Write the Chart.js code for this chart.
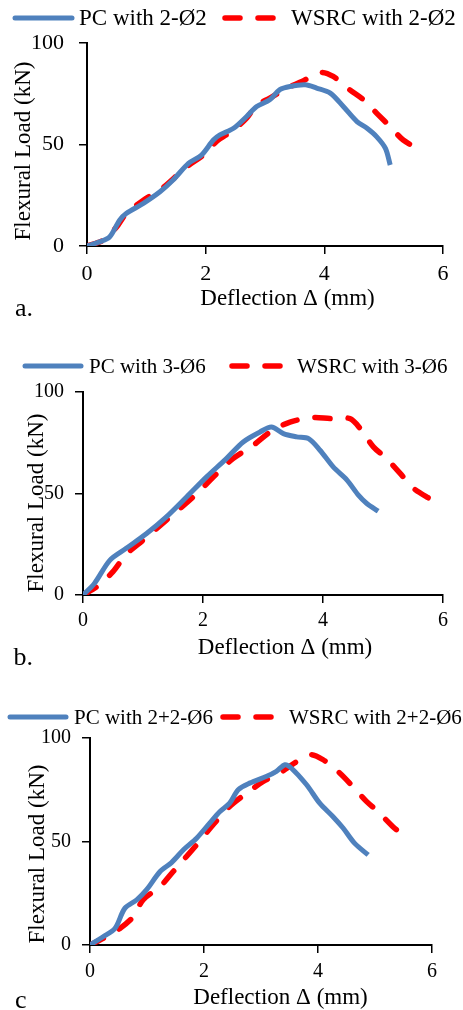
<!DOCTYPE html>
<html>
<head>
<meta charset="utf-8">
<script src="https://cdn.jsdelivr.net/npm/chart.js@4.4.1/dist/chart.umd.min.js"></script>
<style>
    body { margin: 0; background: #fff; }
    canvas { position: absolute; left: 0; }
</style>
</head>
<body>
<canvas id="chart-a" width="463" height="330" style="top:0px;width:463px;height:330px"></canvas>
<canvas id="chart-b" width="463" height="340" style="top:330px;width:463px;height:340px"></canvas>
<canvas id="chart-c" width="463" height="340" style="top:670px;width:463px;height:340px"></canvas>
<script>
// --- data ---
const xTicks = [0, 2, 4, 6];
const yTicks = [0, 50, 100];

const seriesNames = {
    a: ['PC with 2-Ø2', 'WSRC with 2-Ø2'],
    b: ['PC with 3-Ø6', 'WSRC with 3-Ø6'],
    c: ['PC with 2+2-Ø6', 'WSRC with 2+2-Ø6']
};

// a.
const pcDeflA = [0, 0.21, 0.38, 0.55, 0.66, 0.95, 1.23, 1.45, 1.71, 1.93, 2.13, 2.24, 2.47, 2.69, 2.86, 3.08, 3.25, 3.42, 3.68, 3.87, 4.10, 4.32, 4.55, 4.72, 4.88, 5.03, 5.11];
const pcLoadA = [0, 2, 4.4, 12.7, 16, 21, 26.7, 32.5, 40.7, 44.8, 52.2, 54.7, 58, 63.8, 68.7, 72, 77, 78.6, 79.4, 77.8, 75.3, 68.7, 61.3, 58, 53.9, 48.1, 39.9];
const wsDeflA = [0, 0.27, 0.50, 0.64, 0.95, 1.23, 1.68, 1.96, 2.18, 2.47, 2.69, 2.86, 3.08, 3.37, 3.62, 3.93, 4.15, 4.43, 4.66, 4.91, 5.11, 5.33, 5.62];
const wsLoadA = [0, 2.8, 9.4, 15.2, 22.6, 27.5, 39, 44.8, 51.4, 57.2, 63, 69.5, 72.8, 77.8, 81, 85.5, 83.5, 76.9, 72, 64.6, 58.8, 52.2, 47.3];

// b.
const pcDeflB = [0, 0.19, 0.45, 0.72, 1.06, 1.39, 1.73, 2.06, 2.39, 2.67, 2.95, 3.14, 3.34, 3.56, 3.76, 3.95, 4.17, 4.40, 4.59, 4.73, 4.92];
const pcLoadB = [0, 5.7, 17.2, 23, 30.3, 38.5, 48.4, 58.2, 67.2, 75.4, 80.3, 82.8, 79.5, 77.9, 77, 71.3, 63.1, 56.6, 49.2, 45.1, 41.3];
const wsDeflB = [0, 0.25, 0.50, 0.72, 1.00, 1.39, 1.84, 2.23, 2.50, 2.84, 3.12, 3.45, 3.84, 4.12, 4.45, 4.62, 4.84, 5.06, 5.29, 5.51, 5.82];
const wsLoadB = [0, 4.5, 11.5, 20, 27, 36.9, 48.4, 59.8, 67.2, 73.8, 80.3, 85.2, 87.4, 86.9, 86.9, 82, 73, 67.2, 59.8, 52.5, 46.7];

// c
const pcDeflC = [0, 0.23, 0.44, 0.61, 0.82, 0.99, 1.23, 1.43, 1.64, 1.87, 2.10, 2.28, 2.45, 2.60, 2.80, 3.10, 3.27, 3.42, 3.53, 3.80, 4.03, 4.26, 4.44, 4.64, 4.88];
const pcLoadC = [0, 4, 8.1, 17.7, 21.8, 26.6, 35.5, 39.8, 46, 51.6, 58.9, 64.5, 68.5, 75, 78.2, 81.5, 83.9, 87.1, 85.5, 77.4, 68.5, 62.1, 56.5, 49.2, 43.5];
const wsDeflC = [0, 0.23, 0.53, 0.76, 0.93, 1.23, 1.46, 1.64, 1.87, 2.16, 2.45, 2.75, 3.04, 3.33, 3.50, 3.86, 4.09, 4.38, 4.61, 4.85, 5.05, 5.31, 5.52];
const wsLoadC = [0, 3.2, 8.1, 13.7, 21.8, 28.2, 35.5, 41.1, 48.4, 58.1, 66.9, 73.4, 79, 83.1, 86.3, 91.9, 89.5, 83.1, 76.6, 69.4, 64.5, 57.3, 52.4];

const FONT = '"Liberation Serif", "Times New Roman", serif';
const BLUE = '#4F81BD';
const RED = '#FF0000';

function toPoints(xs, ys) {
    return xs.map((x, i) => ({ x: x, y: ys[i] }));
}

// draws legend, axis titles and panel letter
const overlay = {
    id: 'overlay',
    afterDraw(chart, args, opts) {
        const ctx = chart.ctx;
        ctx.save();
        ctx.fillStyle = '#000';
        ctx.textBaseline = 'middle';

        // legend
        chart.data.datasets.forEach((ds, i) => {
            const it = opts.legend.items[i];
            ctx.save();
            ctx.strokeStyle = ds.borderColor;
            ctx.lineWidth = ds.borderWidth;
            ctx.lineCap = 'round';
            ctx.setLineDash(ds.borderDash || []);
            ctx.beginPath();
            ctx.moveTo(it.x0, opts.legend.y);
            ctx.lineTo(it.x1, opts.legend.y);
            ctx.stroke();
            ctx.restore();
            ctx.font = opts.legend.size + 'px ' + FONT;
            ctx.textAlign = 'left';
            ctx.fillText(ds.label, it.tx, opts.legend.y + 1);
        });

        // axis titles
        ctx.font = opts.titleSize + 'px ' + FONT;
        ctx.textAlign = 'center';
        ctx.fillText('Deflection Δ (mm)', opts.xTitle[0], opts.xTitle[1]);
        ctx.save();
        ctx.translate(opts.yTitle[0], opts.yTitle[1]);
        ctx.rotate(-Math.PI / 2);
        ctx.fillText('Flexural Load (kN)', 0, 0);
        ctx.restore();

        // panel letter
        ctx.font = opts.letter.size + 'px ' + FONT;
        ctx.textAlign = 'left';
        ctx.textBaseline = 'alphabetic';
        ctx.fillText(opts.letter.text, opts.letter.x, opts.letter.y);
        ctx.restore();
    }
};

function makeChart(id, names, pcX, pcY, wsX, wsY, lay) {
    const h = document.getElementById(id).height;
    return new Chart(document.getElementById(id), {
        type: 'scatter',
        data: {
            datasets: [{
                label: names[0],
                data: toPoints(pcX, pcY),
                showLine: true,
                borderColor: BLUE,
                backgroundColor: BLUE,
                borderWidth: 5,
                pointRadius: 0,
                tension: 0.3
            }, {
                label: names[1],
                data: toPoints(wsX, wsY),
                showLine: true,
                borderColor: RED,
                backgroundColor: RED,
                borderWidth: 5.5,
                borderDash: [15, 18],
                borderCapStyle: 'round',
                pointRadius: 0,
                tension: 0.3
            }]
        },
        plugins: [overlay],
        options: {
            responsive: false,
            animation: false,
            layout: {
                padding: { top: lay.area.top, right: 463 - lay.area.right, left: 0, bottom: 0 }
            },
            scales: {
                x: {
                    type: 'linear',
                    min: xTicks[0],
                    max: xTicks[xTicks.length - 1],
                    afterBuildTicks: s => { s.ticks = xTicks.map(v => ({ value: v })); },
                    afterFit: s => { s.height = h - lay.area.bottom; },
                    ticks: {
                        color: '#000',
                        padding: lay.xPad,
                        font: { family: FONT, size: lay.tickSize }
                    },
                    grid: { drawOnChartArea: false, color: '#000', lineWidth: 1.5, tickLength: 8 },
                    border: { color: '#000', width: 2 }
                },
                y: {
                    min: yTicks[0],
                    max: yTicks[yTicks.length - 1],
                    afterBuildTicks: s => { s.ticks = yTicks.map(v => ({ value: v })); },
                    afterFit: s => { s.width = lay.area.left; },
                    ticks: {
                        color: '#000',
                        padding: lay.yPad,
                        font: { family: FONT, size: lay.tickSize }
                    },
                    grid: { drawOnChartArea: false, color: '#000', lineWidth: 1.5, tickLength: 8 },
                    border: { color: '#000', width: 2 }
                }
            },
            plugins: {
                legend: { display: false },
                tooltip: { enabled: false },
                overlay: lay
            }
        }
    });
}

makeChart('chart-a', seriesNames.a, pcDeflA, pcLoadA, wsDeflA, wsLoadA, {
    area: { left: 87, right: 443, top: 43, bottom: 246 },
    tickSize: 22, xPad: 7, yPad: 15, titleSize: 23,
    legend: { y: 18, size: 23, items: [{ x0: 15, x1: 72, tx: 79 }, { x0: 225, x1: 276, tx: 291 }] },
    xTitle: [287.5, 299], yTitle: [24, 151],
    letter: { text: 'a.', x: 15, y: 316, size: 26 }
});

makeChart('chart-b', seriesNames.b, pcDeflB, pcLoadB, wsDeflB, wsLoadB, {
    area: { left: 83, right: 443, top: 62, bottom: 265 },
    tickSize: 20, xPad: 6, yPad: 11, titleSize: 23,
    legend: { y: 36, size: 21, items: [{ x0: 25, x1: 81, tx: 89 }, { x0: 232, x1: 283, tx: 297 }] },
    xTitle: [285, 318], yTitle: [36.5, 173],
    letter: { text: 'b.', x: 13.5, y: 335, size: 26 }
});

makeChart('chart-c', seriesNames.c, pcDeflC, pcLoadC, wsDeflC, wsLoadC, {
    area: { left: 90, right: 432, top: 68, bottom: 275 },
    tickSize: 20, xPad: 7, yPad: 11, titleSize: 23,
    legend: { y: 47, size: 21, items: [{ x0: 10, x1: 66, tx: 74 }, { x0: 223, x1: 274, tx: 289 }] },
    xTitle: [280.5, 328], yTitle: [37.5, 184],
    letter: { text: 'c', x: 15, y: 338, size: 26 }
});
</script>
</body>
</html>
